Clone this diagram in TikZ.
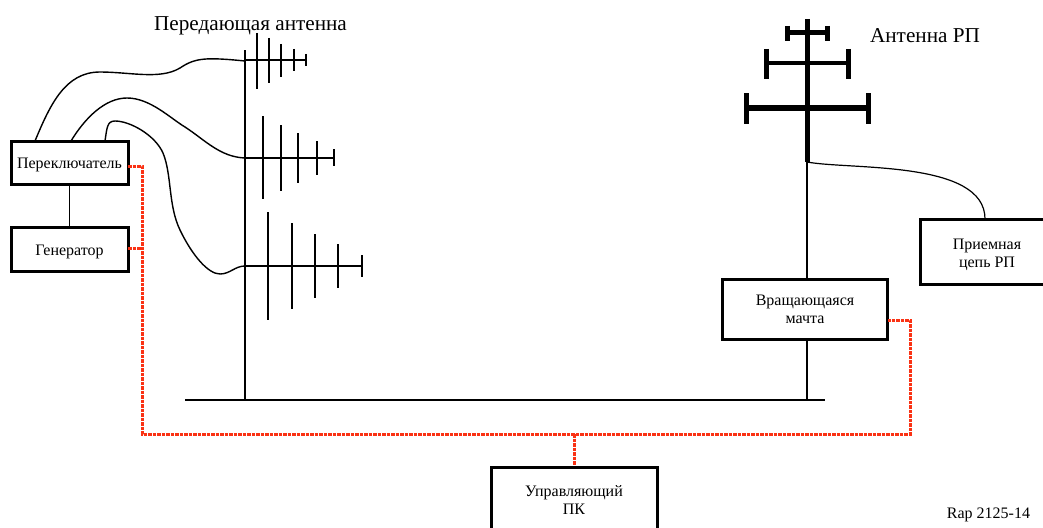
\documentclass[tikz,border=0pt]{standalone}
\usepackage{fontspec}
\setmainfont{Liberation Serif}
\newcommand{\lowertext}[2]{\raisebox{-#1}[\height][\depth]{#2}}
\tikzset{
  x=1pt,y=-1pt,
  blockbox/.style={draw=black,line width=3pt,fill=white,inner sep=0pt,align=center,font=\fontsize{16}{18}\selectfont},
  wire/.style={draw=black,line width=1.6pt,line cap=butt},
  cable/.style={draw=black,line width=1.4pt},
  element/.style={draw=black,line width=2pt},
  boom/.style={draw=black,line width=2pt},
  thickbar/.style={draw=black,line width=5pt},
  ctrl/.style={draw={rgb,255:red,250;green,50;blue,20},line width=3pt,dash pattern=on 3.5pt off 1pt},
  caption/.style={inner sep=0pt,font=\fontsize{21.2}{24}\selectfont},
}
\begin{document}
\begin{tikzpicture}
\useasboundingbox (0,0) rectangle (1043,527);
\clip (0,0) rectangle (1043,527);
\fill[white] (0,0) rectangle (1043,527);

% ground and masts
\coordinate (gl) at (185,400);
\coordinate (gr) at (825,400);
\coordinate (ml) at (245,400);
\coordinate (mltop) at (245,50);
\coordinate (mr) at (807,400);
\coordinate (mrtop) at (807,160);
\draw[wire,line width=2pt] (gl) -- (gr);
\draw[wire,line width=1.8pt] (ml) -- (mltop);
\draw[wire,line width=1.2pt] (mr) -- (mrtop);

% transmit antenna 1
\draw[boom] (245,60) -- (306,60);
\draw[element] (306,54) -- (306,66);
\draw[element] (257,33) -- (257,89);
\draw[element] (269,38) -- (269,83);
\draw[element] (281,44) -- (281,77);
\draw[element] (294,49) -- (294,71);
% transmit antenna 2
\draw[boom] (245,158) -- (334,158);
\draw[element] (334,149) -- (334,166);
\draw[element] (263,116) -- (263,199);
\draw[element] (281,125) -- (281,191);
\draw[element] (298,133) -- (298,183);
\draw[element] (317,141) -- (317,175);
% transmit antenna 3
\draw[boom] (245,266) -- (362,266);
\draw[element] (362,255) -- (362,277);
\draw[element] (268,212) -- (268,320);
\draw[element] (292,223) -- (292,309);
\draw[element] (315,234) -- (315,298);
\draw[element] (338,244) -- (338,288);

% receive antenna
\draw[thickbar] (807,19) -- (807,162);
\draw[thickbar] (787,33) -- (827,33);
\draw[thickbar] (787,26) -- (787,41);
\draw[thickbar] (827,26) -- (827,41);
\draw[thickbar,line width=4pt] (766,63) -- (848,63);
\draw[thickbar] (766,49) -- (766,79);
\draw[thickbar] (848,49) -- (848,79);
\draw[thickbar,line width=6pt] (746,108) -- (868,108);
\draw[thickbar] (746,93) -- (746,124);
\draw[thickbar] (868,93) -- (868,124);

% blocks
\node[blockbox,minimum width=117pt,minimum height=43pt] (sw) at (69.5,162.5) {\lowertext{2pt}{Переключатель}};
\node[blockbox,minimum width=117pt,minimum height=44pt] (gen) at (69.5,249) {\lowertext{2.5pt}{Генератор}};
\node[blockbox,minimum width=165pt,minimum height=60pt] (mast) at (805,309) {Вращающаяся\\мачта};
\node[blockbox,minimum width=134pt,minimum height=65pt] (rx) at (987,251.5) {\lowertext{3.5pt}{Приемная}\\\lowertext{3.5pt}{цепь РП}};
\node[blockbox,minimum width=166pt,minimum height=66pt] (pc) at (574,500) {Управляющий\\ПК};

% captions
\node[caption,anchor=center] (t1) at (250.5,25.5) {Передающая антенна};
\node[caption,anchor=center] (t2) at (925,36) {Антенна РП};
\node[inner sep=0pt,font=\fontsize{16}{18}\selectfont] (t3) at (988.5,514.5) {Rap 2125-14};

% cables
\coordinate (c1s) at (35,141);
\coordinate (c2s) at (71,141);
\coordinate (c3s) at (105,141);
\coordinate (c1e) at (245,61);
\coordinate (c2e) at (245,158);
\coordinate (c3e) at (245,266);
\draw[cable] (c1s) .. controls (50,105) and (65,72) .. (100,72) .. controls (130,72) and (160,80) .. (180,68) .. controls (195,58) and (205,57) .. (c1e);
\draw[cable] (c2s) .. controls (85,118) and (105,98) .. (127,98) .. controls (150,98) and (170,118) .. (185,127) .. controls (205,140) and (220,157) .. (c2e);
\draw[cable] (c3s) .. controls (107,128) and (107,121) .. (115,121) .. controls (130,121) and (155,135) .. (163,153) .. controls (172,175) and (168,205) .. (180,230) .. controls (192,255) and (208,274) .. (220,274) .. controls (230,274) and (235,266) .. (c3e);
\draw[wire] (sw.south) -- (gen.north);
\coordinate (rxfeed) at (807,162);
\draw[cable,line width=1.2pt] (rxfeed) .. controls (850,170) and (985,160) .. (985,219);

% control lines
\coordinate (bl) at (142,434);
\coordinate (br) at (910,434);
\coordinate (bm) at (574,434);
\draw[ctrl] (128,166) -- (142,166) -- (bl) -- (br) -- (910,320) -- (888,320);
\draw[ctrl] (128,248) -- (142,248);
\draw[ctrl] (bm) -- (pc.north);
\end{tikzpicture}
\end{document}
